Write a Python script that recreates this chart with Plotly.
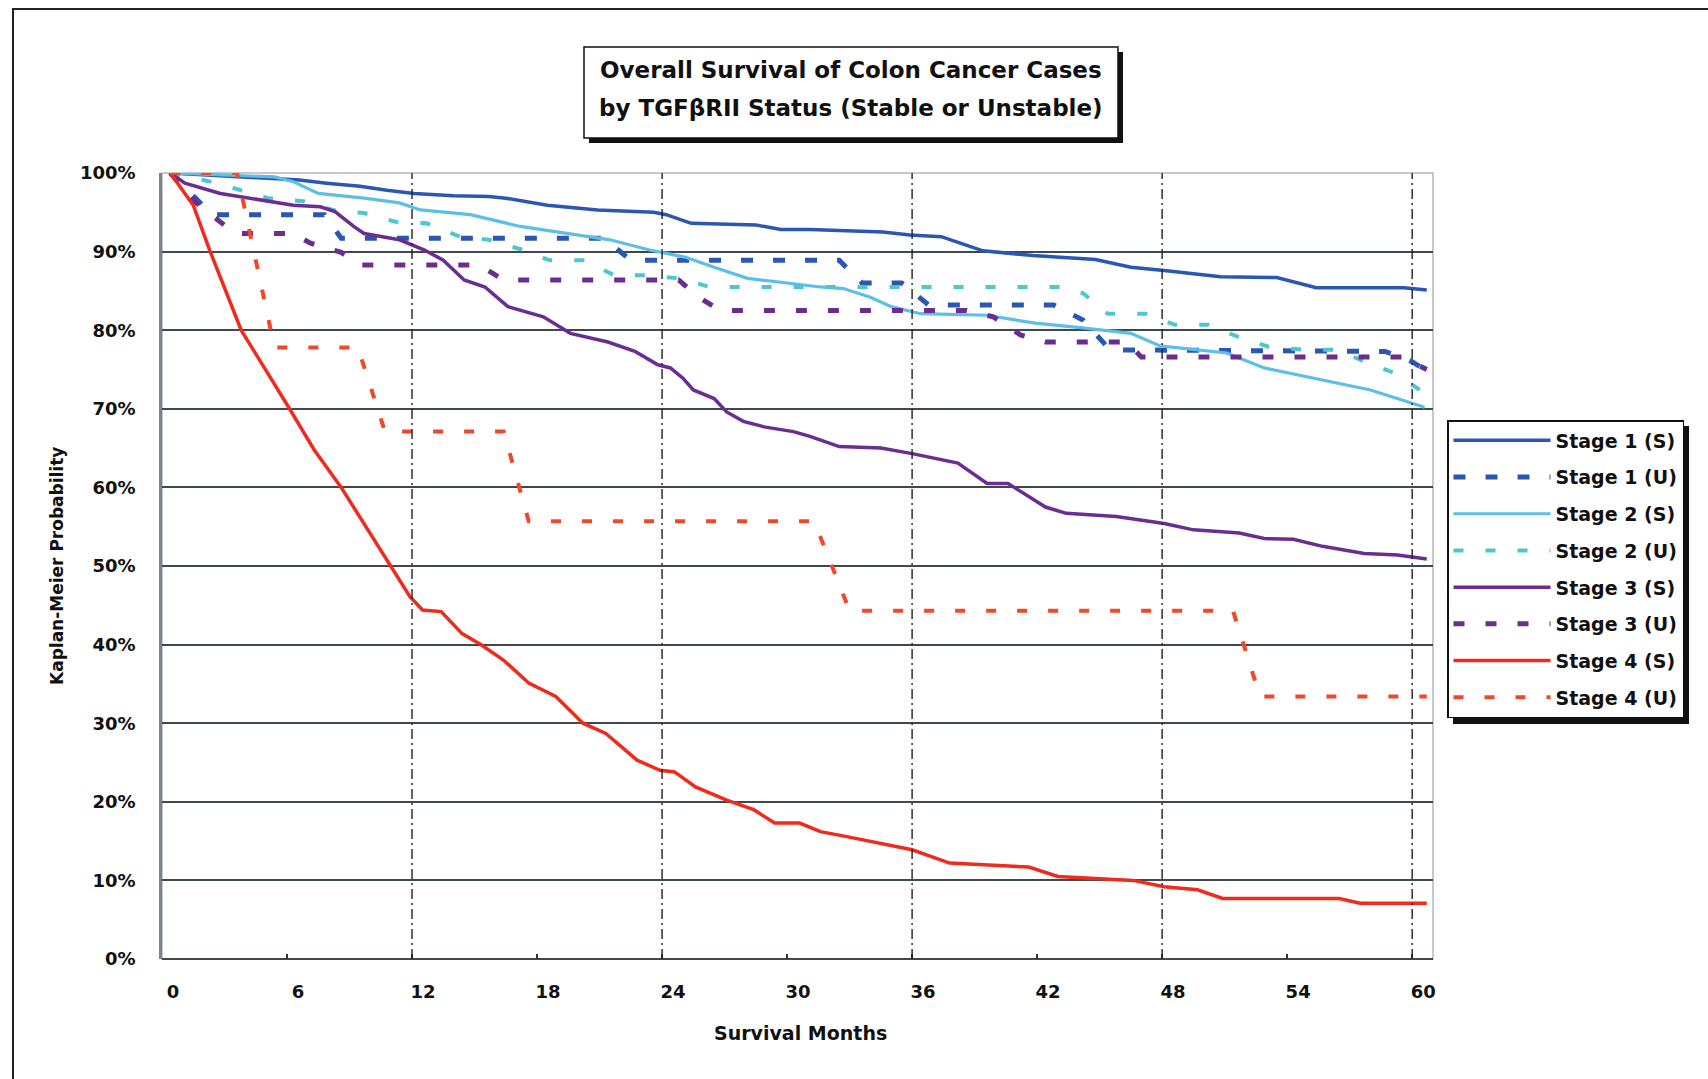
import plotly.graph_objects as go

# ---------------- data (months, Kaplan-Meier %) ----------------
s1s_m = [0.4, 3.0, 5.0, 6.6, 7.9, 9.5, 10.8, 12.1, 14.0, 15.7, 16.5, 18.5, 20.9, 23.6, 24.2, 25.4,
         28.5, 29.7, 31.1, 34.6, 35.9, 37.4, 39.4, 41.8, 44.8, 46.5, 48.1, 49.3, 50.8, 53.5, 55.4, 59.6, 60.7]
s1s_v = [100, 99.6, 99.4, 99.1, 98.7, 98.3, 97.8, 97.4, 97.1, 97.0, 96.8, 95.9, 95.3, 95.0, 94.7, 93.6,
         93.4, 92.8, 92.8, 92.5, 92.1, 91.9, 90.1, 89.5, 89.0, 88.0, 87.6, 87.2, 86.8, 86.7, 85.4, 85.4, 85.1]

s1u_m = [0.4, 1.5, 2.4, 7.8, 8.6, 21.2, 22.5, 32.5, 33.6, 35.5, 36.8, 42.8, 44.2, 45.5, 58.7, 60.0, 60.7]
s1u_v = [100, 97.0, 94.7, 94.7, 91.7, 91.7, 88.9, 88.9, 86.0, 86.0, 83.2, 83.2, 81.3, 77.5, 77.3, 76.0, 74.8]

s2s_m = [0.4, 3.0, 5.4, 6.3, 7.5, 9.7, 11.4, 12.4, 14.8, 17.2, 19.3, 21.5, 23.4, 25.1, 26.5, 28.1,
         29.7, 31.6, 32.7, 34.0, 35.0, 36.4, 39.6, 41.9, 44.2, 46.5, 47.9, 51.1, 52.9, 55.7, 58.0, 60.6]
s2s_v = [100, 99.7, 99.5, 98.9, 97.4, 96.8, 96.2, 95.3, 94.7, 93.2, 92.4, 91.5, 90.2, 89.3, 88.0, 86.6,
         86.1, 85.5, 85.3, 84.2, 83.0, 82.1, 81.9, 80.9, 80.3, 79.6, 78.0, 77.1, 75.2, 73.7, 72.4, 70.2]

s2u_m = [0.4, 2.5, 5.1, 6.8, 8.2, 9.7, 11.2, 12.7, 14.2, 15.7, 17.2, 18.6, 20.2, 21.7, 23.2, 24.8,
         26.3, 43.3, 44.2, 45.4, 47.2, 48.6, 50.2, 51.6, 53.1, 54.8, 56.4, 57.8, 59.1, 60.6]
s2u_v = [100, 98.8, 96.8, 96.4, 95.3, 94.9, 93.8, 93.6, 92.0, 91.5, 90.3, 88.9, 88.9, 87.0, 87.0, 86.6,
         85.5, 85.5, 84.7, 82.1, 82.1, 80.7, 80.7, 79.2, 77.9, 77.5, 77.5, 75.9, 74.6, 72.0]

s3s_m = [0.4, 1.1, 2.8, 4.6, 6.3, 7.6, 8.3, 9.2, 9.7, 11.4, 12.6, 13.5, 14.5, 15.5, 16.6, 18.3,
         19.6, 21.4, 22.7, 23.8, 24.4, 25.0, 25.5, 26.5, 27.1, 27.9, 28.9, 30.3, 31.1, 32.5, 34.5,
         36.0, 38.2, 39.6, 40.6, 42.4, 43.4, 45.8, 48.1, 49.5, 51.7, 52.9, 54.3, 55.7, 57.7, 59.3, 60.7]
s3s_v = [100, 98.7, 97.4, 96.6, 95.9, 95.7, 95.1, 93.2, 92.3, 91.5, 90.2, 88.9, 86.4, 85.5, 83.0, 81.7,
         79.6, 78.5, 77.3, 75.6, 75.2, 73.9, 72.4, 71.3, 69.6, 68.4, 67.7, 67.1, 66.5, 65.2, 65.0,
         64.3, 63.1, 60.5, 60.5, 57.5, 56.7, 56.3, 55.4, 54.6, 54.2, 53.5, 53.4, 52.5, 51.6, 51.4, 50.9]

s3u_m = [0.4, 1.6, 3.5, 6.3, 7.1, 8.6, 9.5, 15.2, 16.4, 24.8, 25.7, 26.8, 38.6, 39.9, 41.2, 42.4,
         46.3, 47.0, 59.5, 60.7]
s3u_v = [100, 96.3, 92.3, 92.3, 91.1, 89.9, 88.3, 88.3, 86.4, 86.4, 84.3, 82.5, 82.5, 81.7, 79.4, 78.5,
         78.5, 76.6, 76.6, 75.0]

s4s_m = [0.4, 1.5, 2.3, 3.8, 6.1, 7.3, 8.6, 11.0, 11.9, 12.5, 13.4, 14.4, 15.3, 16.4, 17.6, 18.9,
         20.2, 21.3, 22.8, 23.9, 24.6, 25.6, 27.1, 28.4, 29.4, 30.6, 31.6, 32.8, 36.0, 37.8, 41.6,
         43.0, 46.6, 48.1, 49.7, 50.9, 56.5, 57.5, 60.7]
s4s_v = [100, 95.9, 90.1, 80.0, 70.1, 64.8, 60.0, 50.0, 46.1, 44.4, 44.2, 41.4, 40.0, 38.0, 35.1, 33.4,
         30.0, 28.7, 25.3, 24.0, 23.8, 21.9, 20.2, 19.0, 17.3, 17.3, 16.2, 15.6, 13.9, 12.2, 11.7,
         10.5, 10.0, 9.2, 8.8, 7.7, 7.7, 7.1, 7.1]

s4u_m = [0.4, 3.6, 5.4, 9.4, 10.7, 16.4, 17.6, 31.3, 33.0, 51.4, 52.7, 60.7]
s4u_v = [100, 100, 77.8, 77.8, 67.1, 67.1, 55.7, 55.7, 44.3, 44.3, 33.4, 33.4]

series_names = ["Stage 1 (S)", "Stage 1 (U)", "Stage 2 (S)", "Stage 2 (U)",
                "Stage 3 (S)", "Stage 3 (U)", "Stage 4 (S)", "Stage 4 (U)"]
series_x = [s1s_m, s1u_m, s2s_m, s2u_m, s3s_m, s3u_m, s4s_m, s4u_m]
series_y = [s1s_v, s1u_v, s2s_v, s2u_v, s3s_v, s3u_v, s4s_v, s4u_v]

x_ticks = [0, 6, 12, 18, 24, 30, 36, 42, 48, 54, 60]
y_ticks = [0, 10, 20, 30, 40, 50, 60, 70, 80, 90, 100]
vline_months = [12, 24, 36, 48, 60]

title_lines = ["Overall Survival of Colon Cancer Cases",
               "by TGF\u03b2RII Status (Stable or Unstable)"]
x_title = "Survival Months"
y_title = "Kaplan-Meier Probability"

# ---------------- styling ----------------
colors = ["#2a56b4", "#2a56b4", "#5cbfe6", "#4ec6cf", "#6b2d92", "#6b2d92", "#ee2b1c", "#f0482a"]
dashes = ["solid", "12px,20px", "solid", "10px,22px", "solid", "11px,21px", "solid", "10px,21px"]
widths = [3.5, 5, 3.2, 4, 3.5, 5, 3.5, 4]

W, H = 1708, 1079
PL, PR, PT, PB = 162, 1433, 173, 959
FONT = "DejaVu Sans"


def px_x(px):
    return (px - PL) / (PR - PL)


def px_y(py):
    return (PB - py) / (PB - PT)


fig = go.Figure()
for name, xs, ys, c, d, w in zip(series_names, series_x, series_y, colors, dashes, widths):
    fig.add_trace(go.Scatter(x=xs, y=ys, mode="lines", name=name, legendgroup=name,
                             line=dict(color=c, width=w, dash=d)))

shapes = []
# outer frame
shapes.append(dict(type="rect", xref="paper", yref="paper", layer="below",
                   x0=px_x(13), x1=px_x(W + 30), y0=px_y(H + 30), y1=px_y(9),
                   line=dict(color="#222", width=2), fillcolor="rgba(0,0,0,0)"))
# plot border (top/right)
shapes.append(dict(type="rect", xref="paper", yref="paper", layer="below",
                   x0=0, x1=1, y0=0, y1=1, line=dict(color="#b8b8b8", width=1.5)))
# vertical dash-dot lines
for vm in vline_months:
    shapes.append(dict(type="line", xref="x", yref="paper", x0=vm, x1=vm, y0=0, y1=1,
                       line=dict(color="#222", width=1.4, dash="10px,4px,2px,4px"), layer="above"))
# title box shadow + box
tb = (584, 47, 1118, 138)
shapes.append(dict(type="rect", xref="paper", yref="paper",
                   x0=px_x(tb[0] + 5), x1=px_x(tb[2] + 5), y0=px_y(tb[3] + 5), y1=px_y(tb[1] + 5),
                   line=dict(width=0), fillcolor="#111"))
shapes.append(dict(type="rect", xref="paper", yref="paper",
                   x0=px_x(tb[0]), x1=px_x(tb[2]), y0=px_y(tb[3]), y1=px_y(tb[1]),
                   line=dict(color="#111", width=1.5), fillcolor="white"))
# legend shadow
lb = (1447, 420, 1683, 718)
shapes.append(dict(type="rect", xref="paper", yref="paper",
                   x0=px_x(lb[0] + 6), x1=px_x(lb[2] + 6), y0=px_y(lb[3] + 6), y1=px_y(lb[1] + 6),
                   line=dict(width=0), fillcolor="#111"))

annotations = [
    dict(text=title_lines[0], x=px_x(851), y=px_y(70), xref="paper", yref="paper",
         showarrow=False, xanchor="center", yanchor="middle",
         font=dict(family=FONT, size=23, color="#111", weight="bold")),
    dict(text=title_lines[1], x=px_x(851), y=px_y(108), xref="paper", yref="paper",
         showarrow=False, xanchor="center", yanchor="middle",
         font=dict(family=FONT, size=23, color="#111", weight="bold")),
    dict(text=x_title, x=px_x(800), y=px_y(1033), xref="paper", yref="paper",
         showarrow=False, xanchor="center", yanchor="middle",
         font=dict(family=FONT, size=19, color="#111", weight="bold")),
    dict(text=y_title, x=px_x(57), y=0.5, xref="paper", yref="paper", textangle=-90,
         showarrow=False, xanchor="center", yanchor="middle",
         font=dict(family=FONT, size=17, color="#111", weight="bold")),
]

fig.update_layout(
    width=W, height=H, autosize=False,
    margin=dict(l=PL, r=W - PR, t=PT, b=H - PB, pad=0),
    paper_bgcolor="white", plot_bgcolor="white",
    font=dict(family=FONT, size=18, color="#111", weight="bold"),
    showlegend=True,
    legend=dict(x=px_x(lb[0]), y=px_y(lb[1]), xanchor="left", yanchor="top",
                bgcolor="white", bordercolor="#111", borderwidth=1.5,
                font=dict(family=FONT, size=19, color="#111", weight="bold"),
                itemwidth=97, tracegroupgap=9, traceorder="grouped"),
    xaxis=dict(range=[0, 61], tickvals=x_ticks, ticktext=[str(t) for t in x_ticks],
               showgrid=False, zeroline=False, showline=False,
               ticks="inside", ticklen=5, tickcolor="#333", tickwidth=1.5,
               ticklabelshift=11, ticklabelstandoff=20,
               tickfont=dict(family=FONT, size=18, color="#111", weight="bold")),
    yaxis=dict(range=[0, 100], tickvals=y_ticks, ticktext=[f"{t}%" for t in y_ticks],
               showgrid=True, gridcolor="#3e494d", gridwidth=2,
               zeroline=True, zerolinecolor="#3e494d", zerolinewidth=2,
               showline=True, linecolor="#76868e", linewidth=2.5,
               ticks="", ticklabelstandoff=20,
               tickfont=dict(family=FONT, size=18, color="#111", weight="bold")),
    shapes=shapes,
    annotations=annotations,
)

fig.write_html("out.html", config={"displayModeBar": False},
               post_script="document.body.style.margin='0';")
